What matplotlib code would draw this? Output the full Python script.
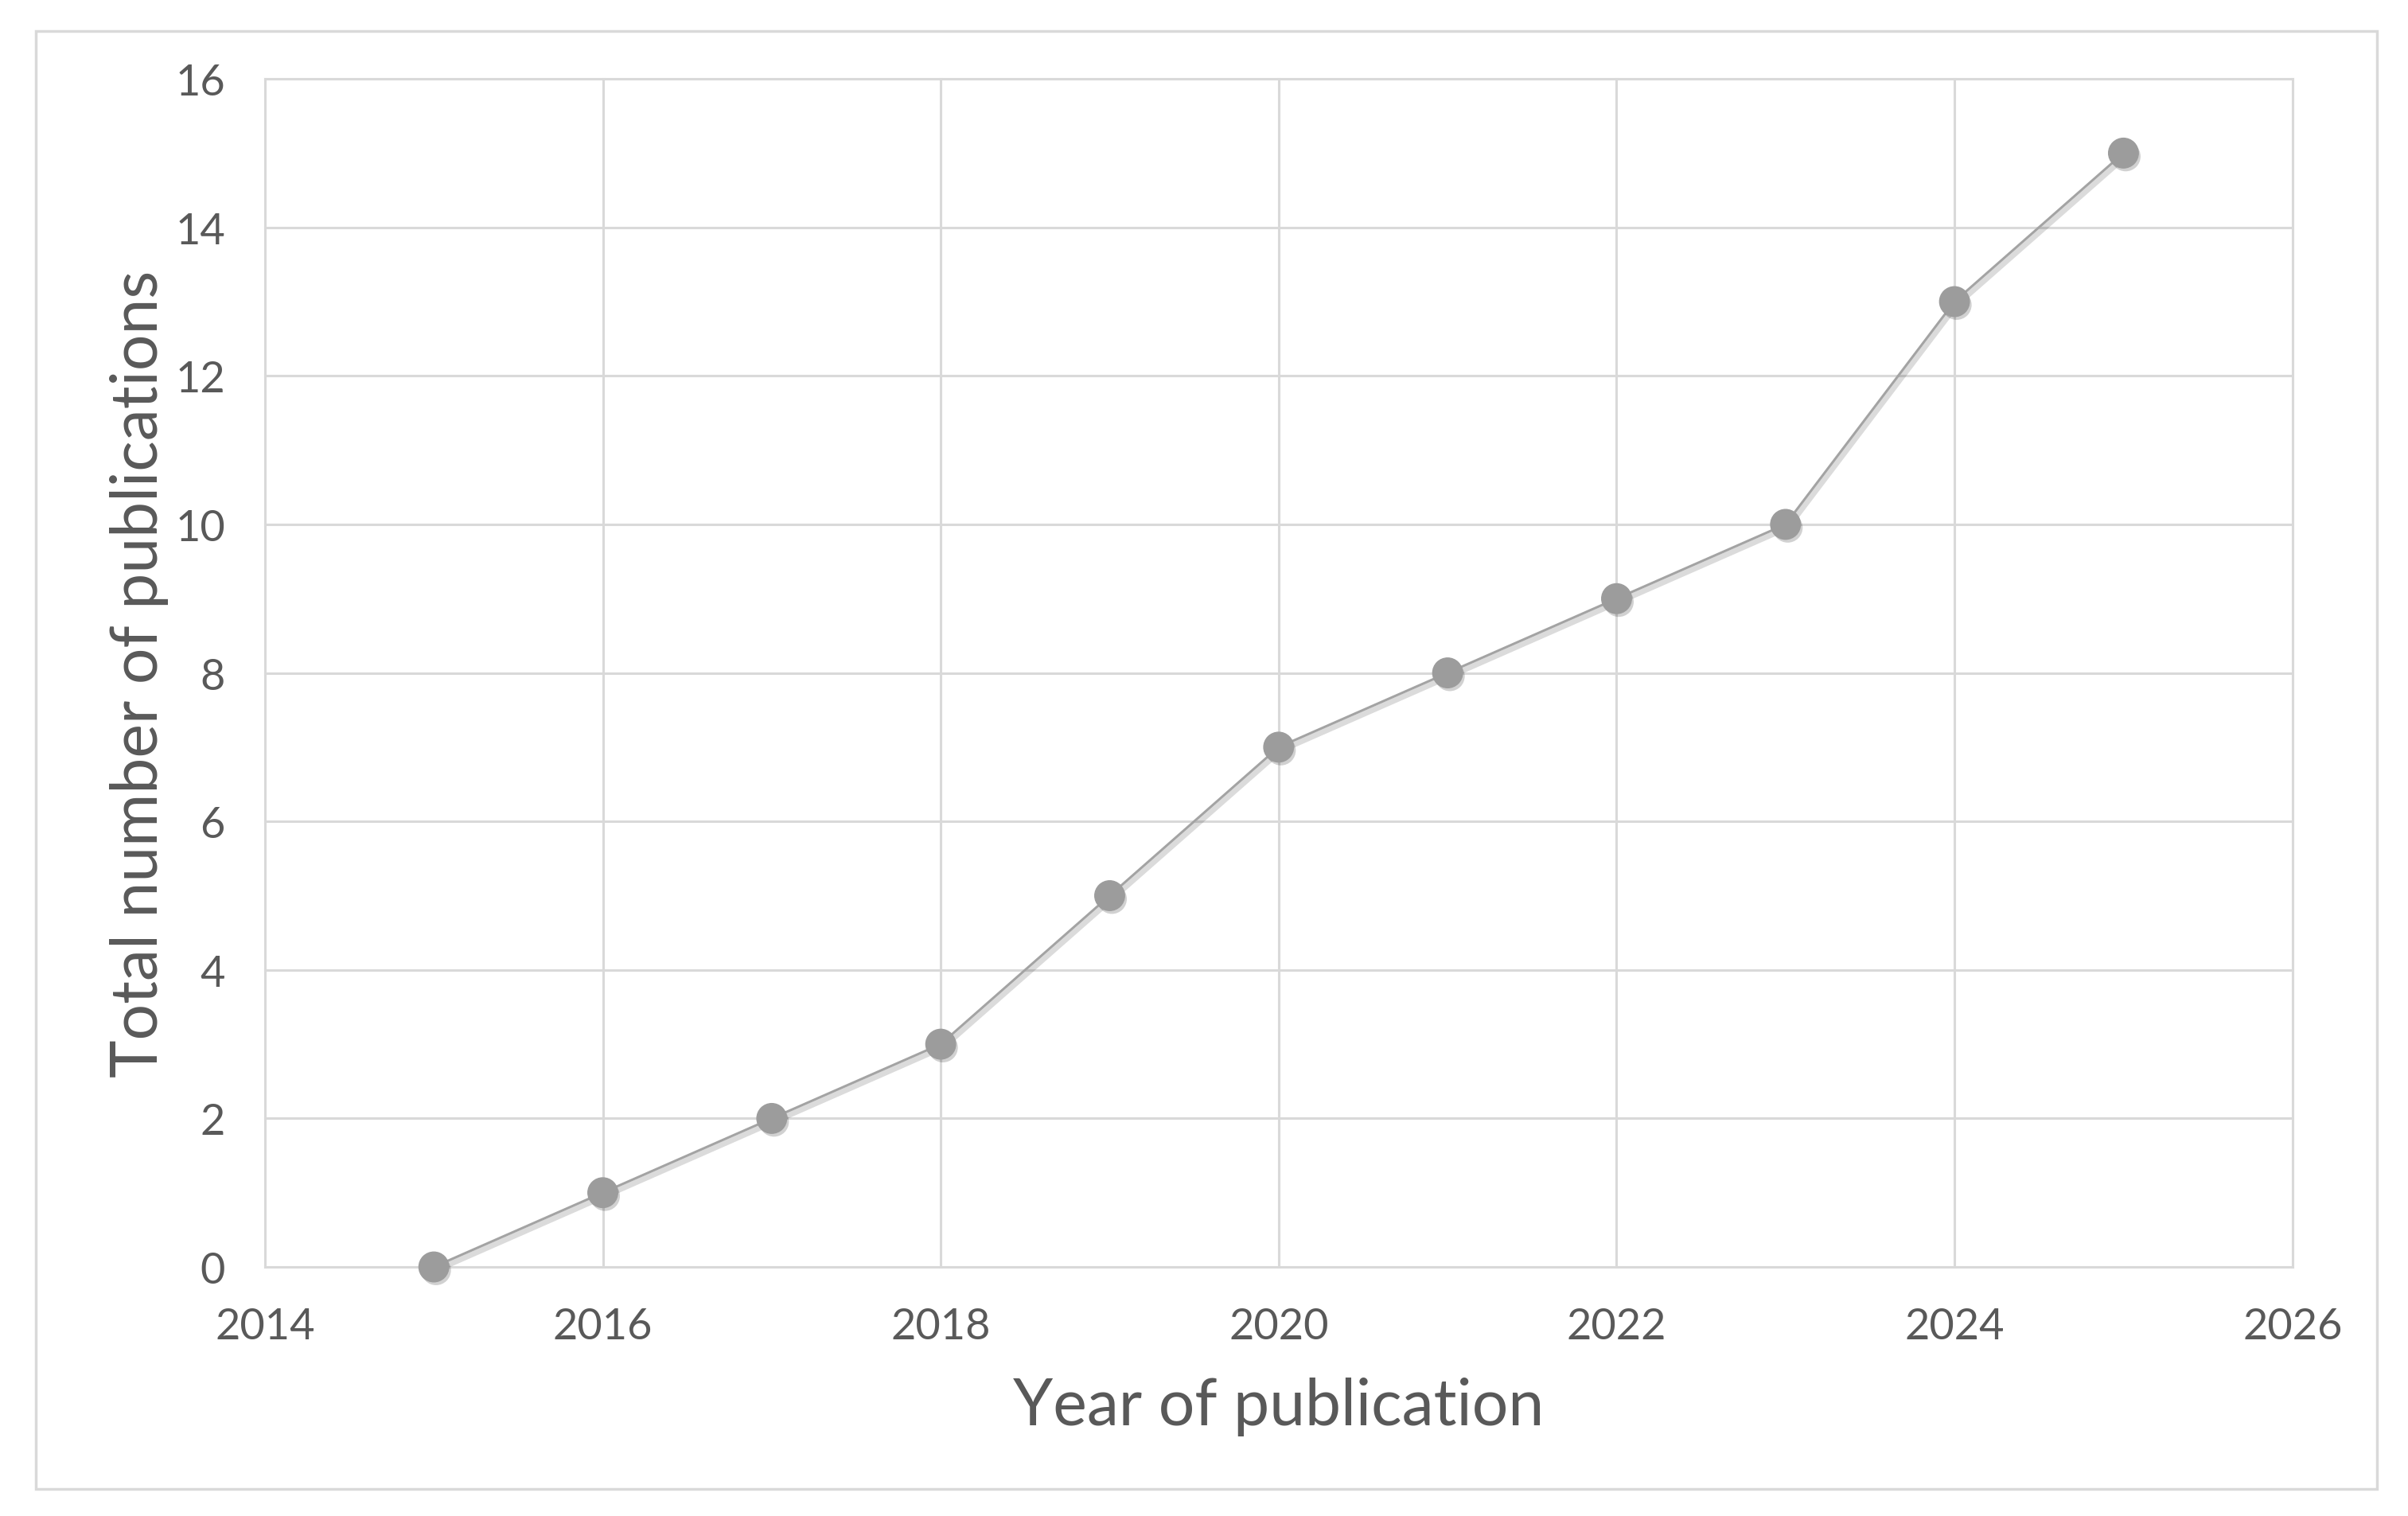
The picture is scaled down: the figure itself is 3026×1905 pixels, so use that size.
import matplotlib
matplotlib.use("Agg")
import matplotlib.pyplot as plt
import matplotlib.patheffects as pe
from matplotlib.patches import Rectangle

# data
years = [2015, 2016, 2017, 2018, 2019, 2020, 2021, 2022, 2023, 2024, 2025]
total_pubs = [0, 1, 2, 3, 5, 7, 8, 9, 10, 13, 15]
x_ticks = [2014, 2016, 2018, 2020, 2022, 2024, 2026]
y_ticks = [0, 2, 4, 6, 8, 10, 12, 14, 16]

text_color = "#595959"
grid_color = "#d9d9d9"

plt.rcParams["font.family"] = ["Lato", "DejaVu Sans"]

fig = plt.figure(figsize=(30.26, 19.06), dpi=100)
ax = fig.add_axes([0.110, 0.1642, 0.842, 0.7833])

# light outer frame around the whole chart
fig.patches.append(Rectangle((45 / 3026, 1 - 1872 / 1906), 2942 / 3026, 1832 / 1906,
                             transform=fig.transFigure, fill=False,
                             edgecolor=grid_color, linewidth=2.5))

ax.plot(years, total_pubs, color="#a3a3a3", linewidth=2.2, zorder=3,
        path_effects=[pe.SimpleLineShadow(offset=(2, -3), shadow_color="#000000", alpha=0.14, linewidth=5),
                      pe.Normal()])
ax.plot(years, total_pubs, linestyle="none", marker="o", markersize=27,
        markerfacecolor="#9c9c9c", markeredgecolor="#9c9c9c", zorder=4, clip_on=False,
        path_effects=[pe.SimplePatchShadow(offset=(2, -3), shadow_rgbFace="#000000", alpha=0.18),
                      pe.Normal()])

ax.set_xlim(2014, 2026)
ax.set_ylim(0, 16)
ax.set_xticks(x_ticks)
ax.set_yticks(y_ticks)
ax.grid(True, color=grid_color, linewidth=2.2)
for g in ax.get_xgridlines() + ax.get_ygridlines():
    g.set_clip_on(False)
ax.set_axisbelow(True)
for s in ax.spines.values():
    s.set_visible(False)
ax.tick_params(length=0, labelsize=39, labelcolor=text_color)
ax.tick_params(axis="y", pad=36)
ax.tick_params(axis="x", pad=36)

ax.set_xlabel("Year of publication", fontsize=58, color=text_color, labelpad=28)
ax.set_ylabel("Total number of publications", fontsize=58, color=text_color, labelpad=6)

fig.savefig("out.png", dpi=100, facecolor="white")
plt.close(fig)
